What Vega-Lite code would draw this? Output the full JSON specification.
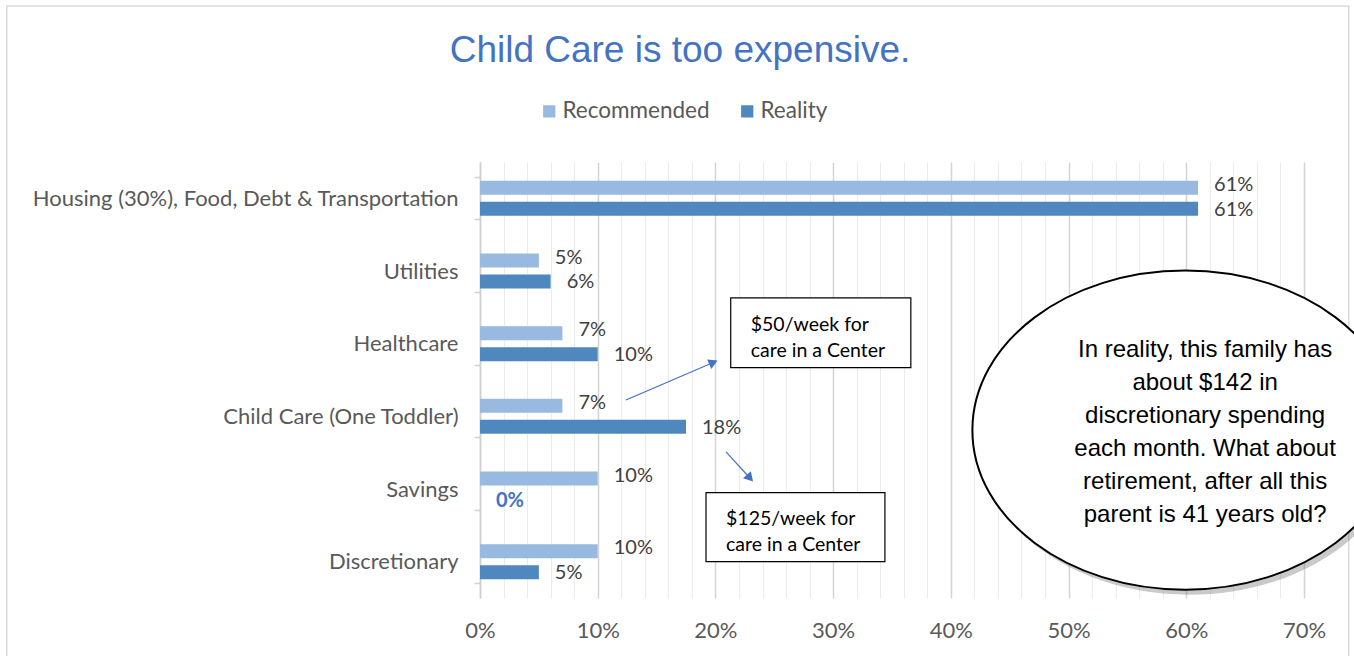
{
  "$schema": "https://vega.github.io/schema/vega-lite/v6.json",
  "width": 824,
  "height": 436,
  "autosize": {"type": "none"},
  "padding": {"left": 480, "top": 162, "right": 50, "bottom": 58},
  "background": "white",
  "title": {
    "text": "Child Care is too expensive.",
    "font": "Liberation Sans",
    "fontSize": 37,
    "fontWeight": "normal",
    "color": "#4472C4",
    "anchor": "middle",
    "dx": -212,
    "offset": -65
  },
  "config": {
    "view": {"stroke": null},
    "font": "Lato"
  },
  "datasets": {
    "bars": [
      {"category": "Housing (30%), Food, Debt & Transportation", "series": "Recommended", "value": 61, "label": "61%"},
      {"category": "Housing (30%), Food, Debt & Transportation", "series": "Reality", "value": 61, "label": "61%"},
      {"category": "Utilities", "series": "Recommended", "value": 5, "label": "5%"},
      {"category": "Utilities", "series": "Reality", "value": 6, "label": "6%"},
      {"category": "Healthcare", "series": "Recommended", "value": 7, "label": "7%"},
      {"category": "Healthcare", "series": "Reality", "value": 10, "label": "10%"},
      {"category": "Child Care (One Toddler)", "series": "Recommended", "value": 7, "label": "7%"},
      {"category": "Child Care (One Toddler)", "series": "Reality", "value": 17.5, "label": "18%"},
      {"category": "Savings", "series": "Recommended", "value": 10, "label": "10%"},
      {"category": "Savings", "series": "Reality", "value": 0, "label": "0%"},
      {"category": "Discretionary", "series": "Recommended", "value": 10, "label": "10%"},
      {"category": "Discretionary", "series": "Reality", "value": 5, "label": "5%"}
    ],
    "frame": [
      {"x": -40.2, "xEnd": 73.8, "y": -2.147, "yEnd": 7}
    ],
    "boxes": [
      {"x": 21.3, "xEnd": 36.6, "y": 1.87, "yEnd": 2.83},
      {"x": 19.2, "xEnd": 34.4, "y": 4.55, "yEnd": 5.5}
    ],
    "boxText": [
      {"x": 23.0, "y": 2.24, "text": "$50/week for"},
      {"x": 23.0, "y": 2.6, "text": "care in a Center"},
      {"x": 20.9, "y": 4.91, "text": "$125/week for"},
      {"x": 20.9, "y": 5.27, "text": "care in a Center"}
    ],
    "arrows": [
      {"id": "a", "x": 12.4, "y": 3.275, "xEnd": 19.71, "yEnd": 2.766},
      {"id": "b", "x": 20.9, "y": 3.99, "xEnd": 22.85, "yEnd": 4.335}
    ],
    "bubble": [
      {"x": 59.9, "y": 3.69, "sx": 60.25, "sy": 3.76, "text": "In reality, this family has\nabout $142 in\ndiscretionary spending\neach month.  What about\nretirement, after all this\nparent is 41 years old?", "tx": 61.6, "ty": 2.587}
    ]
  },
  "layer": [
    {
      "data": {"name": "bars"},
      "encoding": {
        "y": {
          "field": "category",
          "type": "nominal",
          "sort": ["Housing (30%), Food, Debt & Transportation", "Utilities", "Healthcare", "Child Care (One Toddler)", "Savings", "Discretionary"],
          "scale": {"paddingInner": 0.42, "paddingOuter": 0.21},
          "axis": {
            "title": null,
            "labelFont": "Lato",
            "labelFontSize": 22,
            "labelColor": "#595959",
            "labelLimit": 600,
            "labelPadding": 16,
            "domainColor": "#D0D0D0",
            "domainWidth": 1.5,
            "tickColor": "#D0D0D0",
            "tickWidth": 1.5,
            "tickSize": 6,
            "tickBand": "extent",
            "grid": false
          }
        },
        "yOffset": {
          "field": "series",
          "type": "nominal",
          "sort": ["Recommended", "Reality"],
          "scale": {"paddingInner": 0.33, "paddingOuter": 0.17}
        },
        "x": {
          "field": "value",
          "type": "quantitative",
          "scale": {"domain": [0, 70], "nice": false},
          "axis": {
            "title": null,
            "values": [0, 2, 4, 6, 8, 10, 12, 14, 16, 18, 20, 22, 24, 26, 28, 30, 32, 34, 36, 38, 40, 42, 44, 46, 48, 50, 52, 54, 56, 58, 60, 62, 64, 66, 68, 70],
            "tickCount": 40,
            "labelExpr": "datum.value % 10 === 0 ? datum.value + '%' : ''",
            "labelFont": "Lato",
            "labelFontSize": 22,
            "labelColor": "#595959",
            "labelFlush": false,
            "labelOverlap": false,
            "labelPadding": 22,
            "ticks": false,
            "domain": false,
            "grid": true,
            "gridColor": {"condition": {"test": "datum.value % 10 === 0", "value": "#D4D4D4"}, "value": "#EBEBEB"},
            "gridWidth": {"condition": {"test": "datum.value % 10 === 0", "value": 1.5}, "value": 1}
          }
        }
      },
      "layer": [
        {
          "mark": {"type": "bar"},
          "encoding": {
            "color": {
              "field": "series",
              "type": "nominal",
              "sort": ["Recommended", "Reality"],
              "scale": {"domain": ["Recommended", "Reality"], "range": ["#98B9E0", "#4F88BF"]},
              "legend": {
                "title": null,
                "orient": "none",
                "legendX": 58,
                "legendY": -62,
                "direction": "horizontal",
                "symbolType": "square",
                "symbolSize": 150,
                "symbolStrokeWidth": 0,
                "labelFont": "Lato",
                "labelFontSize": 22.5,
                "labelColor": "#595959",
                "labelOffset": 2,
                "columnPadding": 26
              }
            }
          }
        },
        {
          "transform": [{"filter": "datum.value > 0 && datum.series === 'Recommended'"}],
          "mark": {"type": "text", "align": "left", "baseline": "middle", "dx": 16, "dy": -3, "font": "Lato", "fontSize": 20, "color": "#404040"},
          "encoding": {"text": {"field": "label"}}
        },
        {
          "transform": [{"filter": "datum.value > 0 && datum.series === 'Reality'"}],
          "mark": {"type": "text", "align": "left", "baseline": "middle", "dx": 16, "dy": 1, "font": "Lato", "fontSize": 20, "color": "#404040"},
          "encoding": {"text": {"field": "label"}}
        },
        {
          "transform": [{"filter": "datum.value === 0"}],
          "mark": {"type": "text", "align": "left", "baseline": "middle", "dx": 16, "dy": 2, "font": "Lato", "fontSize": 20, "fontWeight": "bold", "color": "#4472C4"},
          "encoding": {"text": {"field": "label"}}
        }
      ]
    },
    {
      "layer": [
        {
          "data": {"name": "frame"},
          "mark": {"type": "rect", "fill": null, "fillOpacity": 0, "stroke": "#D9D9D9", "strokeWidth": 1.5},
          "encoding": {
            "x": {"field": "x", "type": "quantitative", "scale": {"domain": [0, 70], "nice": false}},
            "x2": {"field": "xEnd"},
            "y": {"field": "y", "type": "quantitative", "scale": {"domain": [0, 6], "reverse": true, "nice": false}, "axis": null},
            "y2": {"field": "yEnd"}
          }
        },
        {
          "data": {"name": "boxes"},
          "mark": {"type": "rect", "fill": "white", "stroke": "black", "strokeWidth": 1.2},
          "encoding": {
            "x": {"field": "x", "type": "quantitative"},
            "x2": {"field": "xEnd"},
            "y": {"field": "y", "type": "quantitative"},
            "y2": {"field": "yEnd"}
          }
        },
        {
          "data": {"name": "boxText"},
          "mark": {"type": "text", "align": "left", "baseline": "middle", "font": "Lato", "fontSize": 19.5, "color": "black"},
          "encoding": {
            "x": {"field": "x", "type": "quantitative"},
            "y": {"field": "y", "type": "quantitative"},
            "text": {"field": "text"}
          }
        },
        {
          "data": {"name": "arrows"},
          "mark": {"type": "rule", "color": "#4472C4", "strokeWidth": 1.2},
          "encoding": {
            "x": {"field": "x", "type": "quantitative"},
            "x2": {"field": "xEnd"},
            "y": {"field": "y", "type": "quantitative"},
            "y2": {"field": "yEnd"}
          }
        },
        {
          "data": {"name": "arrows"},
          "transform": [{"filter": "datum.id === 'a'"}],
          "mark": {"type": "point", "shape": "triangle", "angle": 66.5, "size": 110, "filled": true, "color": "#4472C4", "opacity": 1},
          "encoding": {
            "x": {"field": "xEnd", "type": "quantitative"},
            "y": {"field": "yEnd", "type": "quantitative"}
          }
        },
        {
          "data": {"name": "arrows"},
          "transform": [{"filter": "datum.id === 'b'"}],
          "mark": {"type": "point", "shape": "triangle", "angle": 138, "size": 110, "filled": true, "color": "#4472C4", "opacity": 1},
          "encoding": {
            "x": {"field": "xEnd", "type": "quantitative"},
            "y": {"field": "yEnd", "type": "quantitative"}
          }
        },
        {
          "data": {"name": "bubble"},
          "mark": {"type": "point", "shape": "M -1 0 A 1 0.75 0 1 0 1 0 A 1 0.75 0 1 0 -1 0 Z", "size": 181000, "filled": true, "fill": "#7a7a7a", "opacity": 0.4, "strokeWidth": 0},
          "encoding": {
            "x": {"field": "sx", "type": "quantitative"},
            "y": {"field": "sy", "type": "quantitative"}
          }
        },
        {
          "data": {"name": "bubble"},
          "mark": {"type": "point", "shape": "M -1 0 A 1 0.75 0 1 0 1 0 A 1 0.75 0 1 0 -1 0 Z", "size": 181000, "filled": true, "fill": "white", "stroke": "black", "strokeWidth": 2, "opacity": 1},
          "encoding": {
            "x": {"field": "x", "type": "quantitative"},
            "y": {"field": "y", "type": "quantitative"}
          }
        },
        {
          "data": {"name": "bubble"},
          "mark": {"type": "text", "align": "center", "baseline": "middle", "lineBreak": "\n", "lineHeight": 33, "font": "Liberation Sans", "fontSize": 24, "color": "black"},
          "encoding": {
            "x": {"field": "tx", "type": "quantitative"},
            "y": {"field": "ty", "type": "quantitative"},
            "text": {"field": "text"}
          }
        }
      ]
    }
  ],
  "resolve": {"scale": {"y": "independent"}}
}
